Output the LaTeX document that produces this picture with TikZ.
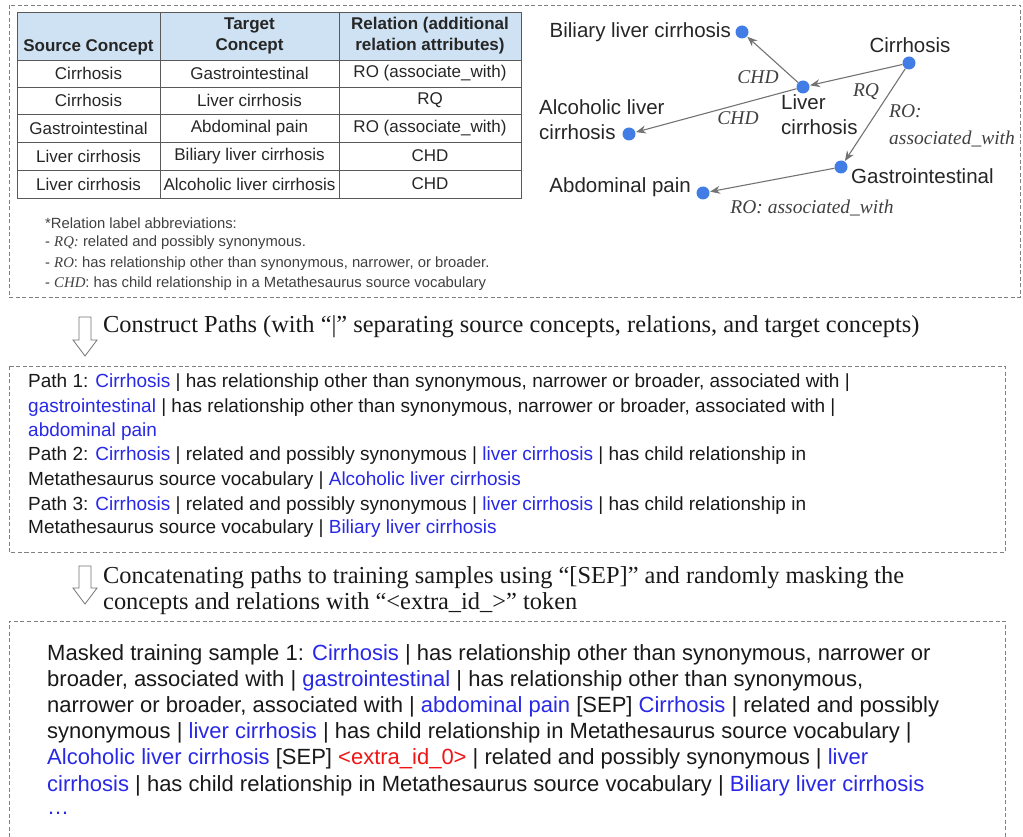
\documentclass[tikz,border=0pt]{standalone}
\usepackage{fontspec}
\setmainfont{Liberation Serif}
\setsansfont{Liberation Sans}
\usetikzlibrary{arrows.meta}
\definecolor{cblue}{RGB}{40,40,230}
\definecolor{dotblue}{RGB}{66,125,230}
\definecolor{hdr}{RGB}{207,226,243}
\definecolor{cred}{RGB}{240,20,20}
\newcommand\cb[1]{\textcolor{cblue}{#1}}
\begin{document}
\begin{tikzpicture}[x=1pt,y=-1pt,font=\sffamily,
  box/.style={draw=black!50, dash pattern=on 4pt off 2.5pt, line width=0.8pt},
  tcell/.style={font=\fontsize{17}{20}\selectfont\sffamily, inner sep=0, text=black!85},
  thead/.style={font=\fontsize{17}{21}\selectfont\sffamily\bfseries, inner sep=0, align=center, text=black!85},
  dot/.style={circle, fill=dotblue, minimum size=13pt, inner sep=0},
  glabel/.style={font=\fontsize{20.5}{25}\selectfont\sffamily, inner sep=0, text=black!85},
  elabel/.style={font=\fontsize{19.5}{27}\selectfont\rmfamily\itshape, inner sep=0, text=black!75},
  edge/.style={draw=black!55, line width=1.1pt, -{Stealth[length=10pt,width=8pt]}, shorten >=0.5pt},
  abbr/.style={font=\fontsize{14.8}{17}\selectfont\sffamily, text=black!75, inner sep=0, anchor=west},
  ptxt/.style={font=\fontsize{19}{20}\selectfont\sffamily, inner sep=0, anchor=west, text=black!90},
  mtxt/.style={font=\fontsize{22}{22}\selectfont\sffamily, inner sep=0, anchor=west, text=black!90},
  stxt/.style={font=\fontsize{24.4}{24}\selectfont\rmfamily, inner sep=0, anchor=west, text=black!90},
  blockarrow/.style={draw=black!55, fill=white, line width=0.8pt}]
\useasboundingbox (0,0) rectangle (1023,837);

% dashed frames
\draw[box] (9,5) rectangle (1020,297);
\draw[box] (9,366) rectangle (1005,552);
\draw[box] (9,837) -- (9,621) -- (1005,621) -- (1005,837);

% table
\fill[hdr] (17,12) rectangle (521,60);
\draw[black!65, line width=0.8pt] (17,12) rectangle (521,198);
\foreach \yy in {60,87,114,142,170} \draw[black!65, line width=0.8pt] (17,\yy) -- (521,\yy);
\foreach \xx in {160,339} \draw[black!65, line width=0.8pt] (\xx,12) -- (\xx,198);
\node[thead] (h1) at (88.5,47) {Source Concept};
\node[thead] (h2) at (249.5,36) {Target\\Concept};
\node[thead] (h3) at (430,36) {Relation (additional\\relation attributes)};
\node[tcell] (r1a) at (88.5,73.5) {Cirrhosis};
\node[tcell] (r1b) at (249.5,73.5) {Gastrointestinal};
\node[tcell] (r1c) at (430,73.5) {RO (associate\_with)};
\node[tcell] (r2a) at (88.5,100.5) {Cirrhosis};
\node[tcell] (r2b) at (249.5,100.5) {Liver cirrhosis};
\node[tcell] (r2c) at (430,100.5) {RQ};
\node[tcell] (r3a) at (88.5,128) {Gastrointestinal};
\node[tcell] (r3b) at (249.5,128) {Abdominal pain};
\node[tcell] (r3c) at (430,128) {RO (associate\_with)};
\node[tcell] (r4a) at (88.5,156) {Liver cirrhosis};
\node[tcell] (r4b) at (249.5,156) {Biliary liver cirrhosis};
\node[tcell] (r4c) at (430,156) {CHD};
\node[tcell] (r5a) at (88.5,184) {Liver cirrhosis};
\node[tcell] (r5b) at (249.5,184) {Alcoholic liver cirrhosis};
\node[tcell] (r5c) at (430,184) {CHD};

% abbreviations
\node[abbr] (a1) at (45,223) {*Relation label abbreviations:};
\node[abbr] (a2) at (45,243) {- {\rmfamily\itshape RQ:} related and possibly synonymous.};
\node[abbr] (a3) at (45,264) {- {\rmfamily\itshape RO}: has relationship other than synonymous, narrower, or broader.};
\node[abbr] (a4) at (45,284) {- {\rmfamily\itshape CHD}: has child relationship in a Metathesaurus source vocabulary};

% graph
\node[dot] (bil) at (742,32) {};
\node[dot] (cir) at (909,63) {};
\node[dot] (liv) at (803,87) {};
\node[dot] (alc) at (629,134) {};
\node[dot] (gas) at (841,167) {};
\node[dot] (abd) at (703,193) {};
\draw[edge] (liv) -- (bil);
\draw[edge] (cir) -- (liv);
\draw[edge] (liv) -- (alc);
\draw[edge] (cir) -- (gas);
\draw[edge] (gas) -- (abd);
\node[glabel, anchor=east] (tbil) at (731,32) {Biliary liver cirrhosis};
\node[glabel] (tcir) at (910,45) {Cirrhosis};
\node[glabel, anchor=north west, align=left] (tliv) at (781,94) {Liver\\cirrhosis};
\node[glabel, anchor=north west, align=left] (talc) at (539,99) {Alcoholic liver\\cirrhosis};
\node[glabel, anchor=west] (tgas) at (851,176) {Gastrointestinal};
\node[glabel, anchor=east] (tabd) at (691,187) {Abdominal pain};
\node[elabel] (e1) at (758,77) {CHD};
\node[elabel] (e2) at (738,118) {CHD};
\node[elabel] (e3) at (866,92) {RQ};
\node[elabel, anchor=north west, align=left] (e4) at (889,104) {RO:\\associated\_with};
\node[elabel] (e5) at (812,208) {RO: associated\_with};

% step 1
\draw[blockarrow] (79,317) -- (91,317) -- (91,340) -- (97,340) -- (85,356) -- (73,340) -- (79,340) -- cycle;
\node[stxt] (s1) at (103,327) {Construct Paths (with “|” separating source concepts, relations, and target concepts)};

% paths
\node[ptxt] (l1) at (28,383) {Path 1: \cb{Cirrhosis} | has relationship other than synonymous, narrower or broader, associated with |};
\node[ptxt] (l2) at (28,408) {\cb{gastrointestinal} | has relationship other than synonymous, narrower or broader, associated with |};
\node[ptxt] (l3) at (28,432) {\cb{abdominal pain}};
\node[ptxt] (l4) at (28,456) {Path 2: \cb{Cirrhosis} | related and possibly synonymous | \cb{liver cirrhosis} | has child relationship in};
\node[ptxt] (l5) at (28,481) {Metathesaurus source vocabulary | \cb{Alcoholic liver cirrhosis}};
\node[ptxt] (l6) at (28,506) {Path 3: \cb{Cirrhosis} | related and possibly synonymous | \cb{liver cirrhosis} | has child relationship in};
\node[ptxt] (l7) at (28,529) {Metathesaurus source vocabulary | \cb{Biliary liver cirrhosis}};

% step 2
\draw[blockarrow] (79,566) -- (91,566) -- (91,588) -- (97,588) -- (85,604) -- (73,588) -- (79,588) -- cycle;
\node[stxt] (s2) at (103,578) {Concatenating paths to training samples using “[SEP]” and randomly masking the};
\node[stxt] (s3) at (103,604) {concepts and relations with “<extra\_id\_>” token};

% masked sample
\node[mtxt] (m1) at (47,655) {Masked training sample 1: \cb{Cirrhosis} | has relationship other than synonymous, narrower or};
\node[mtxt] (m2) at (47,681) {broader, associated with | \cb{gastrointestinal} | has relationship other than synonymous,};
\node[mtxt] (m3) at (47,707) {narrower or broader, associated with | \cb{abdominal pain} [SEP] \cb{Cirrhosis} | related and possibly};
\node[mtxt] (m4) at (47,733) {synonymous | \cb{liver cirrhosis} | has child relationship in Metathesaurus source vocabulary |};
\node[mtxt] (m5) at (47,759) {\cb{Alcoholic liver cirrhosis} [SEP] \textcolor{cred}{<extra\_id\_0>} | related and possibly synonymous | \cb{liver}};
\node[mtxt] (m6) at (47,786) {\cb{cirrhosis} | has child relationship in Metathesaurus source vocabulary | \cb{Biliary liver cirrhosis}};
\node[mtxt] (m7) at (47,813) {\cb{\ldots}};
\end{tikzpicture}
\end{document}
